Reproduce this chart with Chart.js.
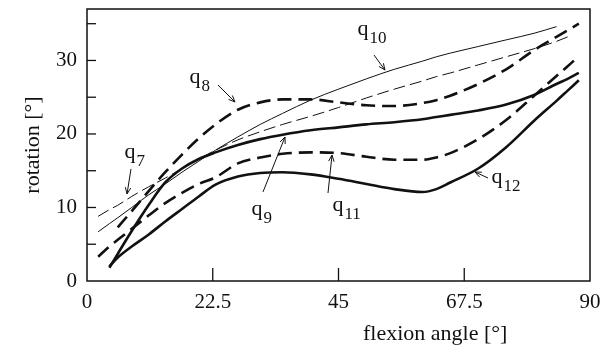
<!DOCTYPE html>
<html>
<head>
<meta charset="utf-8">
<script src="https://cdn.jsdelivr.net/npm/chart.js@4.4.1/dist/chart.umd.min.js"></script>
<style>
  html, body { margin: 0; padding: 0; background: #fff; }
</style>
</head>
<body>
<canvas id="rotChart" width="614" height="348"></canvas>
<script>
// flexion angle grid [deg]
const flexion = [2, 4, 5.5, 8, 11, 14, 17, 20, 23, 27, 31, 35, 40, 45, 50, 55, 60, 62.5, 65, 70, 75, 80, 84, 86, 88];

// rotation [deg] per curve, null where the curve is not drawn
const q7  = [8.8, 9.7, 10.3, 11.5, 12.8, 14.0, 15.3, 16.6, 17.8, 19.2, 20.3, 21.3, 22.4, 23.6, 24.9, 26.1, 27.2, 27.8, 28.3, 29.4, 30.5, 31.6, 32.6, 33.2, null];
const q8  = [null, null, 7.3, 9.5, 12.2, 14.8, 17.2, 19.4, 21.3, 23.3, 24.3, 24.7, 24.7, 24.3, 23.9, 23.8, 24.2, 24.6, 25.2, 26.8, 28.8, 31.4, 33.2, 34.1, 35.0];
const q9  = [null, 1.8, 3.7, 6.8, 10.3, 13.4, 15.3, 16.6, 17.5, 18.5, 19.3, 19.9, 20.5, 20.9, 21.3, 21.6, 22.0, 22.3, 22.6, 23.2, 24.0, 25.3, 26.8, 27.5, 28.3];
const q10 = [6.7, 7.8, 8.6, 10.0, 11.7, 13.2, 14.8, 16.3, 17.8, 19.6, 21.3, 22.8, 24.6, 26.1, 27.5, 28.8, 29.9, 30.5, 31.0, 31.9, 32.8, 33.7, 34.6, null, null];
const q11 = [3.3, 4.7, 5.6, 7.1, 8.9, 10.6, 12.0, 13.2, 14.1, 16.0, 16.8, 17.3, 17.5, 17.4, 16.9, 16.5, 16.5, 16.8, 17.4, 19.3, 21.9, 25.2, 27.9, 29.2, 30.6];
const q12 = [null, 2.0, 3.2, 4.7, 6.3, 8.1, 9.8, 11.5, 13.1, 14.2, 14.7, 14.8, 14.5, 13.9, 13.2, 12.5, 12.1, 12.5, 13.4, 15.3, 18.2, 21.8, 24.5, 25.9, 27.3];

const xTicks = [0, 22.5, 45, 67.5, 90];
const yTicks = [0, 5, 10, 15, 20, 25, 30, 35];

// curve labels: text anchor and arrow (flexion, rotation)
const labels = [
  { sub: '7',  at: [7.69, 17.14],  from: [7.87, 15.24],  to: [7.16, 11.84] },
  { sub: '8',  at: [19.32, 27.34], from: [23.44, 26.66], to: [26.48, 24.35] },
  { sub: '9',  at: [30.42, 9.39],  from: [31.49, 12.11], to: [35.43, 19.59] },
  { sub: '10', at: [49.38, 33.87], from: [51.35, 30.74], to: [53.32, 28.70] },
  { sub: '11', at: [44.91, 9.93],  from: [43.12, 11.97], to: [43.84, 17.14] },
  { sub: '12', at: [73.36, 13.74], from: [71.75, 14.01], to: [69.42, 14.83] }
];

const serif = "'Liberation Serif', 'Times New Roman', Times, serif";

function pts(vals) {
  return flexion.map((x, i) => ({ x: x, y: vals[i] })).filter(p => p.y !== null);
}

function curve(vals, width, dash) {
  return {
    data: pts(vals),
    borderColor: '#111',
    borderWidth: width,
    borderDash: dash,
    pointRadius: 0,
    fill: false,
    cubicInterpolationMode: 'monotone'
  };
}

const decor = {
  id: 'decor',
  afterDatasetsDraw(chart) {
    const c = chart.ctx;
    const a = chart.chartArea;
    const xs = chart.scales.x, ys = chart.scales.y;
    c.save();
    c.strokeStyle = '#111';
    c.fillStyle = '#111';
    c.setLineDash([]);

    // frame
    c.lineWidth = 1.5;
    c.strokeRect(a.left, a.top, a.right - a.left, a.bottom - a.top);

    // inner ticks
    c.lineWidth = 1.3;
    yTicks.forEach(v => {
      if (v === 0) return;
      const py = ys.getPixelForValue(v);
      c.beginPath(); c.moveTo(a.left, py); c.lineTo(a.left + 9, py); c.stroke();
    });
    xTicks.forEach(v => {
      if (v === 0 || v === 90) return;
      const px = xs.getPixelForValue(v);
      c.beginPath(); c.moveTo(px, a.bottom); c.lineTo(px, a.bottom - 13); c.stroke();
    });

    // axis titles
    c.font = '22px ' + serif;
    c.textAlign = 'center';
    c.textBaseline = 'middle';
    c.fillText('flexion angle [°]', xs.getPixelForValue(62.3), a.bottom + 53);
    c.save();
    c.translate(33, (a.top + a.bottom) / 2);
    c.rotate(-Math.PI / 2);
    c.fillText('rotation [°]', 0, 0);
    c.restore();

    // curve labels with arrows
    labels.forEach(l => {
      const qx = xs.getPixelForValue(l.at[0]);
      const qy = ys.getPixelForValue(l.at[1]);
      c.font = '22px ' + serif;
      c.textAlign = 'center';
      c.textBaseline = 'middle';
      c.fillText('q', qx, qy - 3);
      const qw = c.measureText('q').width;
      c.font = '17px ' + serif;
      c.textAlign = 'left';
      c.fillText(l.sub, qx + qw / 2 + 1, qy + 7);

      const x1 = xs.getPixelForValue(l.from[0]), y1 = ys.getPixelForValue(l.from[1]);
      const x2 = xs.getPixelForValue(l.to[0]), y2 = ys.getPixelForValue(l.to[1]);
      c.lineWidth = 1;
      c.beginPath(); c.moveTo(x1, y1); c.lineTo(x2, y2); c.stroke();
      const ang = Math.atan2(y2 - y1, x2 - x1);
      const h = 7;
      c.beginPath();
      c.moveTo(x2 - h * Math.cos(ang - 0.4), y2 - h * Math.sin(ang - 0.4));
      c.lineTo(x2, y2);
      c.lineTo(x2 - h * Math.cos(ang + 0.4), y2 - h * Math.sin(ang + 0.4));
      c.stroke();
    });
    c.restore();
  }
};

const ctx = document.getElementById('rotChart');
new Chart(ctx, {
  type: 'line',
  data: {
    datasets: [
      curve(q7, 1, [12, 5]),
      curve(q10, 1, []),
      curve(q8, 2.6, [14, 7]),
      curve(q11, 2.6, [14, 7]),
      curve(q9, 2.6, []),
      curve(q12, 2.6, [])
    ]
  },
  options: {
    responsive: false,
    animation: false,
    devicePixelRatio: 1,
    layout: { padding: { top: 9, right: 24, left: 0, bottom: 0 } },
    plugins: { legend: { display: false }, tooltip: { enabled: false } },
    scales: {
      x: {
        type: 'linear',
        min: 0, max: 90,
        afterBuildTicks: s => { s.ticks = xTicks.map(v => ({ value: v })); },
        afterFit: s => { s.height = 67; s.paddingLeft = 0; s.paddingRight = 0; },
        grid: { display: false, drawTicks: false },
        border: { display: false },
        ticks: {
          color: '#111', padding: 9, maxRotation: 0, autoSkip: false,
          font: { family: serif, size: 21 },
          callback: v => String(v)
        }
      },
      y: {
        type: 'linear',
        min: 0, max: 37,
        afterBuildTicks: s => { s.ticks = yTicks.map(v => ({ value: v })); },
        afterFit: s => { s.width = 87; s.paddingTop = 0; s.paddingBottom = 0; },
        grid: { display: false, drawTicks: false },
        border: { display: false },
        ticks: {
          color: '#111', padding: 10, autoSkip: false,
          font: { family: serif, size: 21 },
          callback: v => (v % 10 === 0 ? String(v) : '')
        }
      }
    }
  },
  plugins: [decor]
});
</script>
</body>
</html>
